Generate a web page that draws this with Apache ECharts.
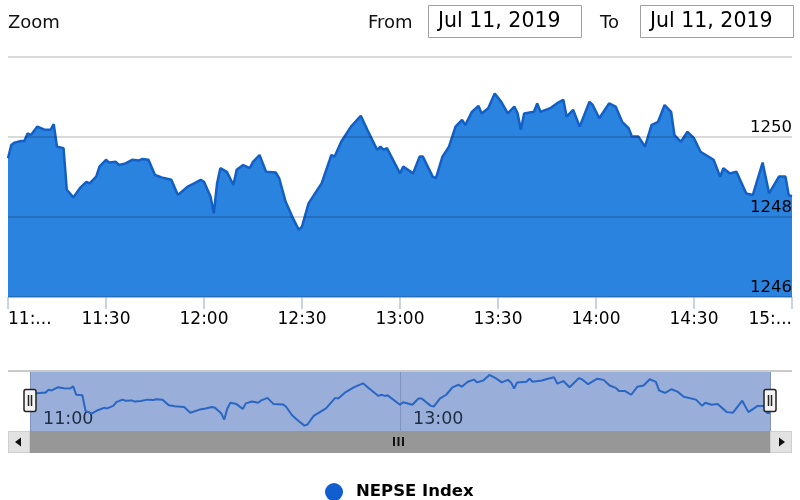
<!DOCTYPE html>
<html>
<head>
<meta charset="utf-8">
<script src="https://cdn.jsdelivr.net/npm/echarts@6/dist/echarts.min.js"></script>
<style>
html,body{margin:0;padding:0;background:#fff;}
#c{width:800px;height:500px;}
</style>
</head>
<body>
<div id="c"></div>
<script>
// NEPSE Index, Jul 11, 2019 (intraday)
const times = [
'11:00','11:01','11:02','11:04','11:05','11:06','11:07','11:09','11:11','11:13',
'11:14','11:15','11:17','11:18','11:20','11:22','11:24','11:25','11:27','11:28',
'11:30','11:31','11:33','11:34','11:36','11:38','11:40','11:41','11:43','11:45',
'11:47','11:50','11:52','11:55','11:57','11:59','12:00','12:02','12:03','12:04',
'12:05','12:07','12:09','12:10','12:12','12:14','12:15','12:17','12:19','12:22',
'12:23','12:25','12:27','12:29','12:30','12:32','12:36','12:39','12:40','12:42',
'12:45','12:48','12:50','12:53','12:54','12:55','12:56','13:00','13:01','13:04',
'13:06','13:07','13:10','13:11','13:13','13:15','13:17','13:19','13:20','13:22',
'13:24','13:25','13:27','13:29','13:31','13:33','13:35','13:36','13:37','13:38',
'13:41','13:42','13:43','13:46','13:48','13:50','13:51','13:53','13:55','13:58',
'13:59','14:01','14:04','14:06','14:08','14:10','14:11','14:13','14:15','14:17',
'14:19','14:21','14:23','14:24','14:26','14:28','14:30','14:32','14:36','14:38',
'14:39','14:41','14:43','14:46','14:48','14:51','14:53','14:56','14:58','14:59','15:00'
];
const values = [
1249.47,1249.80,1249.86,1249.90,1249.90,1250.09,1250.05,1250.26,1250.19,1250.18,
1250.32,1249.76,1249.72,1248.68,1248.49,1248.72,1248.88,1248.84,1249.01,1249.26,
1249.43,1249.36,1249.38,1249.30,1249.34,1249.43,1249.41,1249.45,1249.43,1249.05,
1248.99,1248.93,1248.55,1248.76,1248.84,1248.93,1248.88,1248.51,1248.09,1248.84,
1249.22,1249.13,1248.80,1249.18,1249.30,1249.22,1249.38,1249.55,1249.13,1249.11,
1248.97,1248.38,1248.01,1247.68,1247.76,1248.34,1248.84,1249.55,1249.51,1249.88,
1250.26,1250.53,1250.18,1249.68,1249.76,1249.68,1249.72,1249.09,1249.26,1249.09,
1249.51,1249.51,1249.01,1248.97,1249.51,1249.76,1250.26,1250.43,1250.30,1250.63,
1250.78,1250.59,1250.72,1251.09,1250.88,1250.59,1250.76,1250.59,1250.18,1250.59,
1250.63,1250.84,1250.63,1250.72,1250.84,1250.93,1250.51,1250.68,1250.26,1250.88,
1250.80,1250.47,1250.84,1250.76,1250.38,1250.22,1250.01,1250.01,1249.76,1250.30,
1250.38,1250.80,1250.63,1250.05,1249.88,1250.13,1249.97,1249.63,1249.43,1249.01,
1249.22,1249.09,1249.13,1248.59,1248.55,1249.36,1248.59,1249.01,1249.01,1248.55,1248.52
];
const xTickLabels = ['11:...','11:30','12:00','12:30','13:00','13:30','14:00','14:30','15:...'];
const navTickLabels = ['11:00','13:00',''];
const seriesName = 'NEPSE Index';
const dateFrom = 'Jul 11, 2019';
const dateTo = 'Jul 11, 2019';

const FONT = '"DejaVu Sans", Verdana, sans-serif';
function toMin(t){ const p = t.split(':').map(Number); return (p[0]-11)*60 + p[1]; }
const data = times.map((t,i)=>[toMin(t), values[i]]);

const chart = echarts.init(document.getElementById('c'), null, {renderer:'canvas'});
const option = {
  animation:false,
  backgroundColor:'#fff',
  textStyle:{fontFamily:FONT},
  grid:[
    {left:8, right:8, top:57, height:240},
    {left:30, right:30, top:372, height:59, show:true, backgroundColor:'#99aed9', borderWidth:0}
  ],
  xAxis:[
    {type:'value', gridIndex:0, min:0, max:240, interval:30,
     axisLine:{show:true, lineStyle:{color:'#ccd6eb', width:1}},
     axisTick:{show:true, length:12, lineStyle:{color:'#b8c6d8', width:1.5}},
     splitLine:{show:false},
     axisLabel:{fontFamily:FONT, fontSize:17, color:'#000', margin:14,
       alignMinLabel:'left', alignMaxLabel:'right',
       formatter:(v)=>xTickLabels[Math.round(v/30)]}},
    {type:'value', gridIndex:1, min:0, max:240, interval:120,
     axisLine:{show:false}, axisTick:{show:false},
     splitLine:{show:true, lineStyle:{color:'#8092bd', width:1}},
     axisLabel:{inside:true, fontFamily:FONT, fontSize:17.5, color:'#1e2d45', margin:3,
       align:'left', padding:[0,0,0,13],
       formatter:(v)=>navTickLabels[Math.round(v/120)]}}
  ],
  yAxis:[
    {type:'value', gridIndex:0, position:'right', min:1246, max:1252, interval:2, z:5,
     axisLine:{show:false}, axisTick:{show:false},
     splitLine:{show:true, lineStyle:{color:'rgba(0,0,0,0.2)', width:1.5}},
     axisLabel:{inside:true, margin:0, verticalAlign:'bottom', showMaxLabel:false,
       fontFamily:FONT, fontSize:16.5, color:'#000', padding:[0,0,1,0],
       formatter:(v)=>String(v)}},
    {type:'value', gridIndex:1, min:1247.32, max:1251.29, show:false,
     splitLine:{show:false}}
  ],
  legend:{
    data:[seriesName], left:320, top:478, icon:'circle', itemWidth:18, itemHeight:18,
    itemGap:10,
    textStyle:{fontFamily:FONT, fontSize:16.5, fontWeight:'bold', color:'#000', padding:[0,0,0,8]}
  },
  series:[
    {name:seriesName, type:'line', xAxisIndex:0, yAxisIndex:0, data:data,
     showSymbol:false, symbol:'none',
     itemStyle:{color:'#105ed0'},
     lineStyle:{color:'#125fc6', width:2.5},
     areaStyle:{color:'#0a70d9', opacity:0.87, origin:'start'}},
    {name:'Navigator', type:'line', xAxisIndex:1, yAxisIndex:1, data:data,
     showSymbol:false, symbol:'none', silent:true,
     lineStyle:{color:'#2a66c4', width:2}}
  ],
  graphic:[
    {type:'text', x:8, y:23, style:{text:'Zoom', fontFamily:FONT, fontSize:18, fill:'#111', textVerticalAlign:'middle'}},
    {type:'text', x:368, y:23, style:{text:'From', fontFamily:FONT, fontSize:18, fill:'#111', textVerticalAlign:'middle'}},
    {type:'rect', shape:{x:428.5, y:5.5, width:153, height:32}, style:{fill:'#fff', stroke:'#a0a0a0', lineWidth:1}},
    {type:'text', x:438, y:22, style:{text:dateFrom, fontFamily:FONT, fontSize:20.5, fill:'#000', textVerticalAlign:'middle'}},
    {type:'text', x:600, y:23, style:{text:'To', fontFamily:FONT, fontSize:18, fill:'#111', textVerticalAlign:'middle'}},
    {type:'rect', shape:{x:640.5, y:5.5, width:153, height:32}, style:{fill:'#fff', stroke:'#a0a0a0', lineWidth:1}},
    {type:'text', x:650, y:22, style:{text:dateTo, fontFamily:FONT, fontSize:20.5, fill:'#000', textVerticalAlign:'middle'}},
    // navigator outline
    {type:'line', shape:{x1:8, y1:371, x2:792, y2:371}, style:{stroke:'#b8b8b8', lineWidth:1.5}, z:10},
    // scrollbar
    {type:'rect', shape:{x:8, y:431, width:784, height:22}, style:{fill:'#979797'}, z:10},
    {type:'rect', shape:{x:8.5, y:431.5, width:21, height:21}, style:{fill:'#e2e2e2', stroke:'#cfcfcf', lineWidth:1}, z:11},
    {type:'polygon', shape:{points:[[15,442],[21,437.5],[21,446.5]]}, style:{fill:'#111'}, z:12},
    {type:'rect', shape:{x:770.5, y:431.5, width:21, height:21}, style:{fill:'#e2e2e2', stroke:'#cfcfcf', lineWidth:1}, z:11},
    {type:'polygon', shape:{points:[[785,442],[779,437.5],[779,446.5]]}, style:{fill:'#111'}, z:12},
    {type:'rect', shape:{x:393, y:437, width:2, height:9}, style:{fill:'#111'}, z:12},
    {type:'rect', shape:{x:397.5, y:437, width:2, height:9}, style:{fill:'#111'}, z:12},
    {type:'rect', shape:{x:402, y:437, width:2, height:9}, style:{fill:'#111'}, z:12},
    // handles
    {type:'rect', shape:{x:24, y:389.5, width:12, height:22, r:2}, style:{fill:'#f4f4f4', stroke:'#222', lineWidth:1.5}, z:13},
    {type:'line', shape:{x1:28.5, y1:395, x2:28.5, y2:406}, style:{stroke:'#222', lineWidth:1.5}, z:14},
    {type:'line', shape:{x1:31.5, y1:395, x2:31.5, y2:406}, style:{stroke:'#222', lineWidth:1.5}, z:14},
    {type:'rect', shape:{x:764, y:389.5, width:12, height:22, r:2}, style:{fill:'#f4f4f4', stroke:'#222', lineWidth:1.5}, z:13},
    {type:'line', shape:{x1:768.5, y1:395, x2:768.5, y2:406}, style:{stroke:'#222', lineWidth:1.5}, z:14},
    {type:'line', shape:{x1:771.5, y1:395, x2:771.5, y2:406}, style:{stroke:'#222', lineWidth:1.5}, z:14}
  ]
};
chart.setOption(option);
</script>
</body>
</html>
